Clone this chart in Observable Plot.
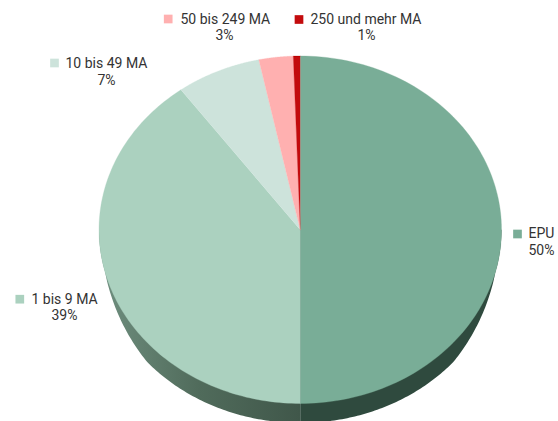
<!DOCTYPE html>
<html><head><meta charset="utf-8">
<style>html,body{margin:0;padding:0;background:#fff}svg{display:block}</style>
<script src="https://cdn.jsdelivr.net/npm/d3@7"></script>
<script src="https://cdn.jsdelivr.net/npm/@observablehq/plot@0.6"></script>
</head><body><div id="chart"></div>
<script>
const categories = ["EPU", "1 bis 9 MA", "10 bis 49 MA", "50 bis 249 MA", "250 und mehr MA"];
const shares = [50, 39.9, 6.8, 2.75, 0.55];
const shareLabels = ["50%", "39%", "7%", "3%", "1%"];
const colors = ["#79ad97", "#abd1bf", "#cde3db", "#ffb0b0", "#c30b0d"];
const depth = 0.112;

const arcs = d3.pie().sort(null).value(d => d)(shares);
const ring = (a0, a1) => d3.range(0, 121).map(i => {
  const a = a0 + (a1 - a0) * i / 120;
  return {x: Math.sin(a), y: Math.cos(a)};
});
// the side wall tapers to nothing where it rounds the pie's flanks
const lowered = p => {
  const t = Math.min(1, Math.max(0, (-p.y - 0.25) / 0.4));
  return {x: p.x, y: p.y - depth * Math.pow(t, 0.75)};
};
const wedges = arcs.map(a => [{x: 0, y: 0}, ...ring(a.startAngle, a.endAngle)]);
const sideL = [...ring(Math.PI, 1.5 * Math.PI).map(lowered), {x: 0, y: 0}];
const sideR = [...ring(Math.PI / 2, Math.PI).map(lowered), {x: 0, y: 0}];

const gradient = (id, stops) => `<linearGradient id="${id}" x1="0" x2="1" y1="0" y2="0">` +
  stops.map(([o, c]) => `<stop offset="${o}" stop-color="${c}"/>`).join("") + `</linearGradient>`;

// [swatch x, swatch y, text x, line-1 y, share x, share y, share anchor]
const layout = [
  [517, 233.5, 528, 233, 528, 250, "start"],
  [19.3, 298.7, 31, 299, 64, 315, "middle"],
  [54, 62.5, 65, 63, 106, 80, "middle"],
  [167.7, 18.5, 180, 19, 224, 35, "middle"],
  [298.5, 19, 310, 19, 366, 35, "middle"]
];
const font = {fontFamily: "Roboto", fontSize: 14, fill: "#333"};
const legendMarks = categories.flatMap((c, i) => {
  const [sx, sy, tx, ty, px, py, anchor] = layout[i];
  return [
    Plot.dot([c], {frameAnchor: "top-left", dx: sx, dy: sy, symbol: "square", r: 4.9, fill: colors[i]}),
    Plot.text([c], {frameAnchor: "top-left", dx: tx, dy: ty, text: d => d, textAnchor: "start", lineAnchor: "middle", ...font}),
    Plot.text([shareLabels[i]], {frameAnchor: "top-left", dx: px, dy: py, text: d => d, textAnchor: anchor, lineAnchor: "middle", ...font})
  ];
});

const chart = Plot.plot({
  width: 558, height: 421, margin: 0,
  x: {domain: [-1, 1], range: [98.5, 501], axis: null},
  y: {domain: [-1, 1], range: [403, 55.5], axis: null},
  style: {background: "#fff"},
  marks: [
    () => {
      const g = d3.create("svg:defs");
      g.html(gradient("sideL", [[0, "#6f8f7f"], [0.5, "#506b5b"], [1, "#40574a"]]) +
             gradient("sideR", [[0, "#2f4a3e"], [1, "#2f4a3e"]]));
      return g.node();
    },
    Plot.line(sideL, {x: "x", y: "y", fill: "url(#sideL)", stroke: "none"}),
    Plot.line(sideR, {x: "x", y: "y", fill: "url(#sideR)", stroke: "none"}),
    ...wedges.map((w, i) => Plot.line(w, {x: "x", y: "y", fill: colors[i], stroke: colors[i], strokeWidth: 0.3})),
    ...legendMarks
  ]
});
document.getElementById("chart").append(chart);
</script></body></html>
